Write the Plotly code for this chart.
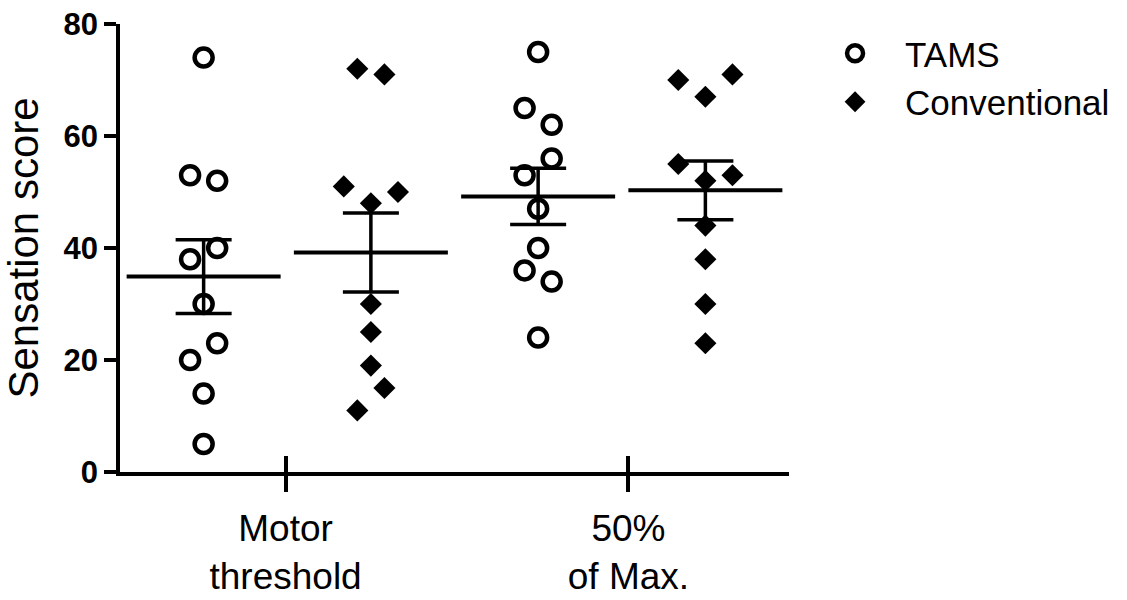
import numpy as np
import plotly.graph_objects as go

# ---- data ----
categories = ["Motor<br>threshold", "50%<br>of Max."]
tams_motor = [74, 53, 52, 40, 38, 30, 23, 20, 14, 5]
tams_half = [75, 65, 62, 56, 53, 47, 40, 36, 34, 24]
conv_motor = [72, 71, 51, 50, 48, 30, 25, 19, 15, 11]
conv_half = [71, 70, 67, 55, 53, 52, 44, 38, 30, 23]
y_ticks = [0, 20, 40, 60, 80]

# ---- layout helpers: horizontal spread slot of each point (GraphPad style) ----
slots_tams_motor = [0, -1, 1, 1, -1, 0, 1, -1, 0, 0]
slots_tams_half = [0, -1, 1, 1, -1, 0, 0, -1, 1, 0]
slots_conv_motor = [-1, 1, -2, 2, 0, 0, 0, 0, 1, -1]
slots_conv_half = [2, -2, 0, -2, 2, 0, 0, 0, 0, 0]
SLOT = 0.081
col_pos = {"tams_motor": 1, "conv_motor": 2, "tams_half": 3, "conv_half": 4}
cat_tick_pos = [1.49, 3.54]

FONT = "Arial, Liberation Sans, sans-serif"


def spread(col, slots):
    return [col + s * SLOT for s in slots]


def mean_sem(v):
    a = np.asarray(v, dtype=float)
    return a.mean(), a.std(ddof=1) / np.sqrt(len(a))


fig = go.Figure()

fig.add_trace(go.Scatter(
    x=spread(col_pos["tams_motor"], slots_tams_motor) + spread(col_pos["tams_half"], slots_tams_half),
    y=tams_motor + tams_half,
    mode="markers", name="TAMS",
    marker=dict(symbol="circle-open", size=18, color="black", line=dict(width=4.5, color="black")),
))
fig.add_trace(go.Scatter(
    x=spread(col_pos["conv_motor"], slots_conv_motor) + spread(col_pos["conv_half"], slots_conv_half),
    y=conv_motor + conv_half,
    mode="markers", name="Conventional",
    marker=dict(symbol="diamond", size=17, color="black", line=dict(width=0)),
))

# mean +/- SEM
groups = [("tams_motor", tams_motor), ("conv_motor", conv_motor),
          ("tams_half", tams_half), ("conv_half", conv_half)]
mx, my, me = [], [], []
for key, vals in groups:
    m, s = mean_sem(vals)
    mx.append(col_pos[key]); my.append(m); me.append(s)

fig.add_trace(go.Scatter(
    x=mx, y=my, mode="markers", showlegend=False, hoverinfo="skip",
    marker=dict(symbol="line-ew", size=110, color="black", line=dict(width=4, color="black")),
    error_y=dict(type="data", array=me, visible=True, color="black", thickness=3.5, width=28),
))

# invisible trace to carry the second (inside-tick) x axis
fig.add_trace(go.Scatter(x=[None], y=[None], xaxis="x2", showlegend=False, hoverinfo="skip"))

fig.update_layout(
    width=1127, height=600,
    margin=dict(l=120, r=338, t=24, b=128, autoexpand=False),
    paper_bgcolor="white", plot_bgcolor="white",
    font=dict(family=FONT, color="black"),
    showlegend=True,
    legend=dict(x=1.024, y=1.0, xanchor="left", yanchor="top",
                font=dict(size=35, family=FONT, color="black"),
                itemwidth=90, tracegroupgap=0, bgcolor="rgba(0,0,0,0)"),
    xaxis=dict(range=[0.5, 4.5], tickmode="array", tickvals=cat_tick_pos, ticktext=categories,
               ticks="outside", ticklen=16, tickwidth=3.5, tickcolor="black",
               showline=True, linewidth=3.5, linecolor="black",
               showgrid=False, zeroline=False, ticklabelstandoff=5,
               tickfont=dict(size=37, family=FONT, color="black")),
    xaxis2=dict(range=[0.5, 4.5], overlaying="x", anchor="y", side="bottom",
                tickmode="array", tickvals=cat_tick_pos, ticks="inside", ticklen=16,
                tickwidth=3.5, tickcolor="black", showticklabels=False,
                showline=False, showgrid=False, zeroline=False),
    yaxis=dict(range=[0, 80], tickmode="array", tickvals=y_ticks,
               ticks="outside", ticklen=12, tickwidth=3.5, tickcolor="black",
               showline=True, linewidth=3.5, linecolor="black",
               showgrid=False, zeroline=False,
               tickfont=dict(size=31, family=FONT, color="black", weight="bold"),
               title=dict(text="Sensation score", font=dict(size=42, family=FONT, color="black"),
                          standoff=16)),
)

fig.write_html("out.html")
